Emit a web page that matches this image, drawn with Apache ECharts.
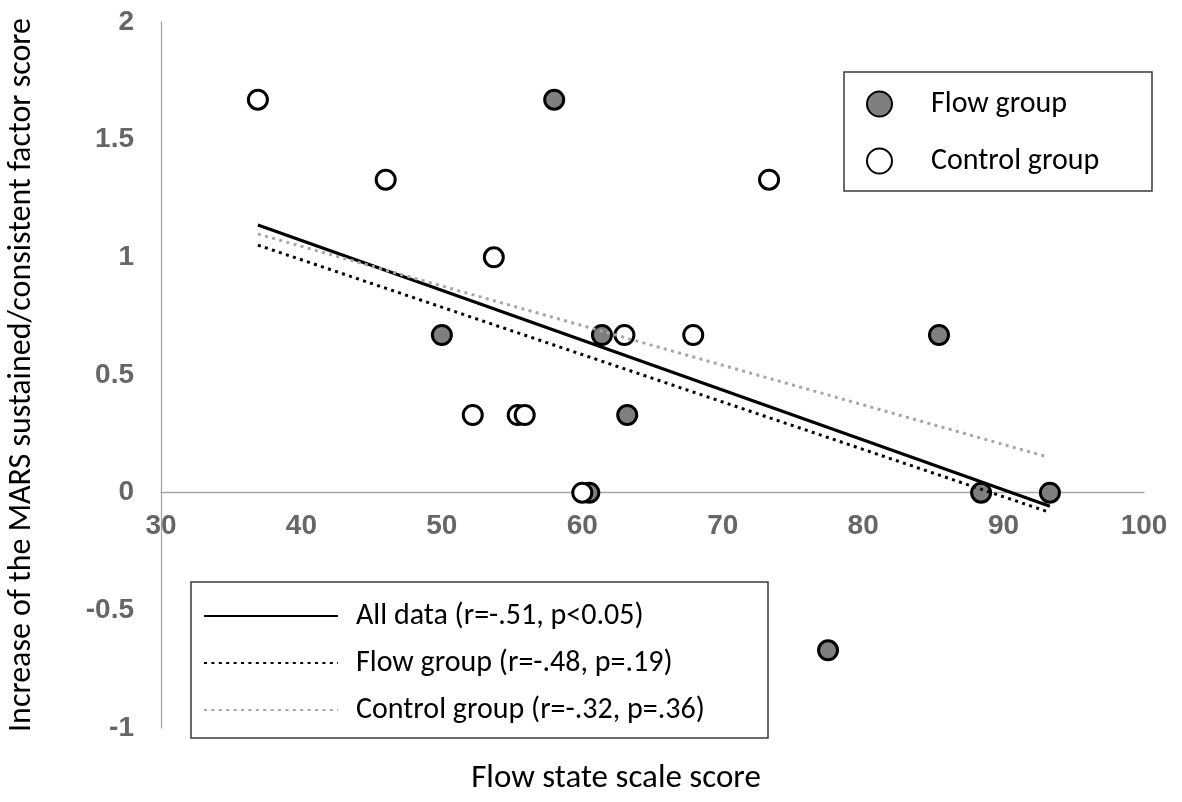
<!DOCTYPE html>
<html>
<head>
<meta charset="utf-8">
<script src="https://cdn.jsdelivr.net/npm/echarts@6/dist/echarts.min.js"></script>
<style>
html,body{margin:0;padding:0;background:#fff;}
#chart{width:1182px;height:802px;}
</style>
</head>
<body>
<div id="chart"></div>
<script>
// Data
var flowX = [58.0, 50.0, 61.4, 63.2, 60.5, 85.4, 88.4, 93.3, 77.5];
var flowY = [1.67, 0.67, 0.67, 0.33, 0, 0.67, 0, 0, -0.67];
var ctrlX = [36.9, 46.0, 53.7, 52.2, 55.4, 55.9, 60.0, 63.0, 67.9, 73.3];
var ctrlY = [1.67, 1.33, 1.0, 0.33, 0.33, 0.33, 0, 0.67, 0.67, 1.33];

var allLineX = [36.9, 93.3];
var allLineY = [1.137, -0.058];
var flowLineX = [36.9, 93.1];
var flowLineY = [1.052, -0.080];
var ctrlLineX = [36.9, 93.0];
var ctrlLineY = [1.099, 0.154];

var xTicks = [30, 40, 50, 60, 70, 80, 90, 100];
var yTicks = [-1, -0.5, 0, 0.5, 1, 1.5, 2];

var scatterNames = ['Flow group', 'Control group'];
var lineNames = ['All data (r=-.51, p<0.05)', 'Flow group (r=-.48, p=.19)', 'Control group (r=-.32, p=.36)'];
var xTitle = 'Flow state scale score';
var yTitle = 'Increase of the MARS sustained/consistent factor score';

function pairs(xs, ys) { return xs.map(function (x, i) { return [x, ys[i]]; }); }

var textFont = 'Carlito, Calibri, Lato, "Open Sans", sans-serif';
var tickFont = '"Liberation Sans", Arial, sans-serif';

var gridTop = 22, gridBottom = 74, chartH = 802;
var gridH = chartH - gridTop - gridBottom;
// shift the x axis (line and labels) up to the y = 0 position
var zeroOffset = -gridH * (0 - yTicks[0]) / (yTicks[yTicks.length - 1] - yTicks[0]);

var chart = echarts.init(document.getElementById('chart'));
chart.setOption({
  animation: false,
  backgroundColor: '#ffffff',
  grid: { left: 161, right: 38, top: gridTop, bottom: gridBottom, containLabel: false, outerBoundsMode: 'none' },
  xAxis: {
    type: 'value',
    min: xTicks[0], max: xTicks[xTicks.length - 1], interval: 10,
    offset: zeroOffset,
    axisLine: { show: true, onZero: false, lineStyle: { color: '#a6a6a6', width: 1.3 } },
    axisTick: { show: false },
    splitLine: { show: false },
    axisLabel: { color: '#666666', fontFamily: tickFont, fontWeight: 'bold', fontSize: 28, margin: 20 }
  },
  yAxis: {
    type: 'value',
    min: yTicks[0], max: yTicks[yTicks.length - 1], interval: 0.5,
    axisLine: { show: true, lineStyle: { color: '#a6a6a6', width: 1.3 } },
    axisTick: { show: false },
    splitLine: { show: false },
    axisLabel: { color: '#666666', fontFamily: tickFont, fontWeight: 'bold', fontSize: 28, margin: 27 },
    name: yTitle,
    nameLocation: 'middle',
    nameRotate: 90,
    nameGap: 123,
    nameTextStyle: { color: '#000000', fontFamily: textFont, fontSize: 32 }
  },
  legend: [
    {
      data: scatterNames,
      orient: 'vertical',
      left: 866, top: 89,
      padding: 0,
      itemWidth: 25, itemHeight: 25, itemGap: 27,
      textStyle: { color: '#000000', fontFamily: textFont, fontSize: 30, lineHeight: 25, padding: [0, 0, 0, 34] }
    },
    {
      data: lineNames,
      orient: 'vertical',
      left: 203, top: 601,
      padding: 0,
      itemWidth: 134, itemHeight: 24, itemGap: 17,
      itemStyle: { opacity: 0 },
      textStyle: { color: '#000000', fontFamily: textFont, fontSize: 30, lineHeight: 24, padding: [0, 0, 0, 13] }
    }
  ],
  graphic: [
    { type: 'rect', shape: { x: 844, y: 72, width: 308, height: 119 }, style: { fill: 'none', stroke: '#3a3a3a', lineWidth: 1.5 }, z: 1 },
    { type: 'rect', shape: { x: 191, y: 582, width: 577, height: 156 }, style: { fill: 'none', stroke: '#3a3a3a', lineWidth: 1.5 }, z: 1 },
    { type: 'text', x: 616, y: 779, style: { text: xTitle, fill: '#000000', font: '33px ' + textFont, textAlign: 'center', textVerticalAlign: 'middle' } }
  ],
  series: [
    {
      name: scatterNames[0], type: 'scatter', z: 3,
      data: pairs(flowX, flowY),
      symbol: 'circle', symbolSize: 19,
      itemStyle: { color: '#7f7f7f', borderColor: '#000000', borderWidth: 3, opacity: 1 }
    },
    {
      name: scatterNames[1], type: 'scatter', z: 4,
      data: pairs(ctrlX, ctrlY),
      symbol: 'circle', symbolSize: 19,
      itemStyle: { color: '#ffffff', borderColor: '#000000', borderWidth: 3, opacity: 1 }
    },
    {
      name: lineNames[0], type: 'line', z: 5,
      data: pairs(allLineX, allLineY),
      symbol: 'none', showSymbol: false,
      lineStyle: { color: '#000000', width: 3.2, type: 'solid' }
    },
    {
      name: lineNames[1], type: 'line', z: 5,
      data: pairs(flowLineX, flowLineY),
      symbol: 'none', showSymbol: false,
      lineStyle: { color: '#000000', width: 3, type: [3, 4.4], cap: 'butt' }
    },
    {
      name: lineNames[2], type: 'line', z: 5,
      data: pairs(ctrlLineX, ctrlLineY),
      symbol: 'none', showSymbol: false,
      lineStyle: { color: '#a6a6a6', width: 3, type: [3, 4.4], cap: 'butt' }
    }
  ]
});
</script>
</body>
</html>
